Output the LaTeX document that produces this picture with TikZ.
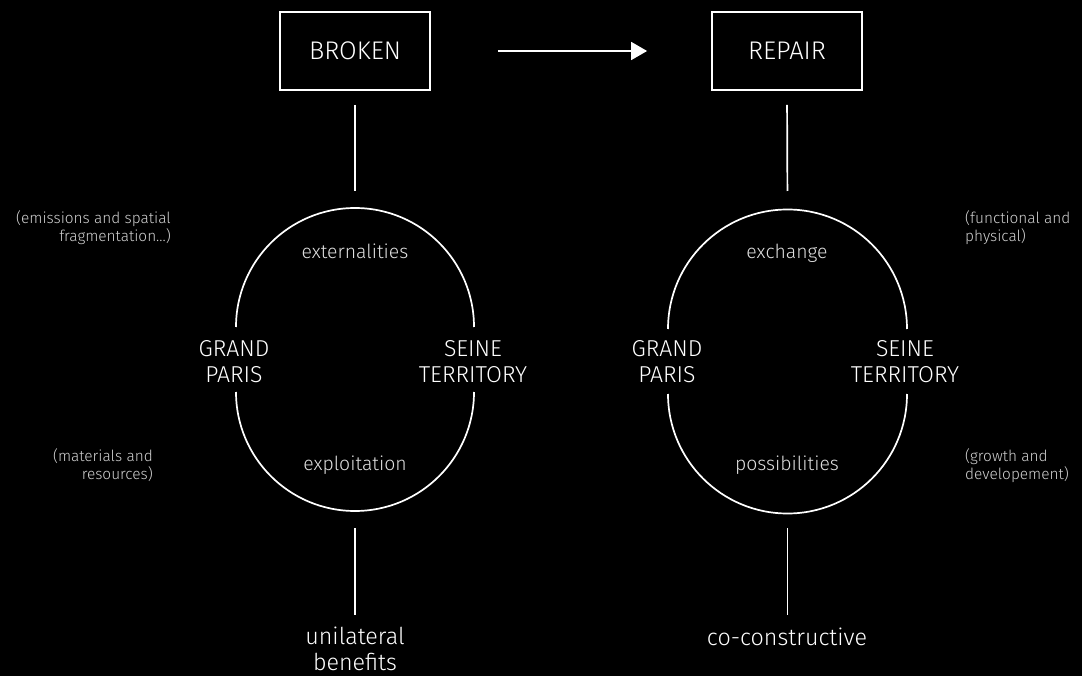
\documentclass[tikz,border=0pt]{standalone}
\usepackage{fontspec}
\setmainfont{Fira Sans Light}
\usetikzlibrary{arrows.meta}
\begin{document}
\begin{tikzpicture}[x=1pt,y=-1pt,
  line/.style={draw=white,line width=1.7pt},
  boxnode/.style={draw=white,line width=1.8pt,minimum width=150pt,minimum height=78pt,text=white,font=\fontsize{25.5}{30}\selectfont},
  place/.style={text=white,font=\fontsize{23}{25}\selectfont,align=center,inner sep=0pt,anchor=base},
  flow/.style={text=white!88!black,font=\fontsize{19.4}{23}\selectfont,inner sep=0pt,anchor=base},
  note/.style={text=white!82!black,font=\fontsize{15.4}{18}\selectfont,inner sep=0pt,anchor=base},
  result/.style={text=white,font=\fontsize{23.3}{26}\selectfont,align=center,inner sep=0pt,anchor=base}
]
\fill[black] (0,0) rectangle (1082,676);
\useasboundingbox (0,0) rectangle (1082,676);

% boxes
\node[boxnode] (broken) at (355,51) {BROKEN};
\node[boxnode] (repair) at (787,51) {REPAIR};
\draw[line,-{Triangle[length=16pt,width=18pt]},shorten <=67pt,shorten >=64pt] (broken.east) -- (repair.west);

% left ring
\coordinate (ltop) at (355,207);
\coordinate (lbot) at (355,511);
\draw[line] (236,327) arc[start angle=180,end angle=0,radius=119pt];
\draw[line] (236,392) arc[start angle=180,end angle=360,radius=119pt];
\draw[line,shorten <=14pt,shorten >=16pt] (broken.south) -- (ltop);

% right ring
\coordinate (rtop) at (787.5,210);
\coordinate (rbot) at (787.5,513);
\draw[line] (668,329) arc[start angle=180,end angle=0,radius=119.5pt];
\draw[line] (668,394) arc[start angle=180,end angle=360,radius=119.5pt];
\draw[line,shorten <=14pt,shorten >=19pt] (repair.south) -- (rtop);

% left labels
\node[flow] (ext) at (355,259) {externalities};
\node[flow] (expl) at (355,470) {exploitation};
\node[place] (gp1) at (234,382) {GRAND\\PARIS};
\node[place] (st1) at (473,382) {SEINE\\TERRITORY};
\node[note,align=right,anchor=base east] (n1) at (171,242) {(emissions and spatial\\fragmentation...)};
\node[note,align=right,anchor=base east] (n2) at (153,479) {(materials and\\resources)};
\node[result] (unil) at (355,670) {unilateral\\benefits};
\coordinate (lb2) at (355,615);
\draw[line,shorten <=17pt] (lbot) -- (lb2);

% right labels
\node[flow] (exch) at (787,259) {exchange};
\node[flow] (poss) at (787,470) {possibilities};
\node[place] (gp2) at (667,382) {GRAND\\PARIS};
\node[place] (st2) at (905,382) {SEINE\\TERRITORY};
\node[note,align=left,anchor=base west] (n3) at (965,242) {(functional and\\physical)};
\node[note,align=left,anchor=base west] (n4) at (965,479) {(growth and\\developement)};
\node[result] (cocon) at (787,645) {co-constructive};
\coordinate (rb2) at (787.5,615);
\draw[line,shorten <=15pt] (rbot) -- (rb2);
\end{tikzpicture}
\end{document}
